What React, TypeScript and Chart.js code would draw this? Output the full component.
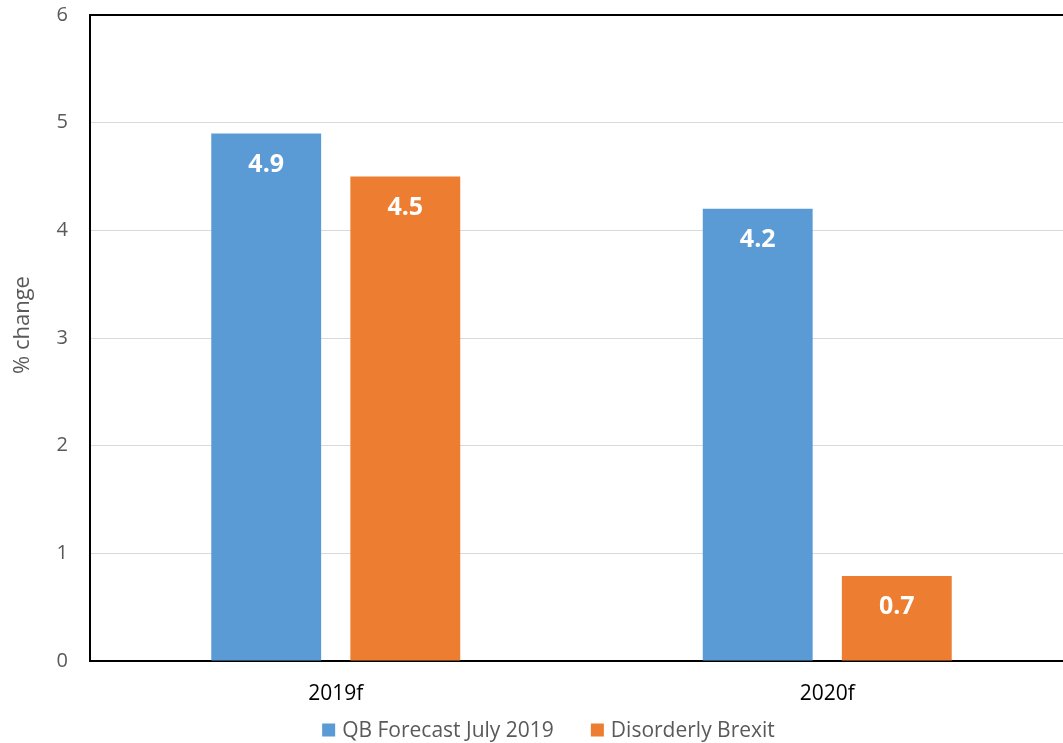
import React, { useEffect, useRef } from "react";
import { Chart, registerables } from "chart.js";

Chart.register(...registerables);

const categories = ["2019f", "2020f"];
const seriesNames = ["QB Forecast July 2019", "Disorderly Brexit"];
const qbForecast = [4.9, 4.2];
const disorderly = [4.5, 0.79];
const qbLabels = ["4.9", "4.2"];
const disorderlyLabels = ["4.5", "0.7"];
const yTicks = [0, 1, 2, 3, 4, 5, 6];
const yTitle = "% change";

const FONT = "'Open Sans', 'Noto Sans', sans-serif";

const barLabelPlugin = {
  id: "barLabels",
  afterDatasetsDraw(chart: any) {
    const ctx = chart.ctx;
    const labelSets = [qbLabels, disorderlyLabels];
    ctx.save();
    ctx.fillStyle = "#ffffff";
    ctx.font = `bold 25px ${FONT}`;
    ctx.textAlign = "center";
    ctx.textBaseline = "middle";
    chart.data.datasets.forEach((_: any, di: number) => {
      const meta = chart.getDatasetMeta(di);
      meta.data.forEach((bar: any, i: number) => {
        ctx.fillText(labelSets[di][i], bar.x, bar.y + 31);
      });
    });
    ctx.restore();
  },
};

const legendAndTitlePlugin = {
  id: "legendAndTitle",
  afterDraw(chart: any) {
    const ctx = chart.ctx;
    ctx.save();
    // legend
    ctx.font = `21px ${FONT}`;
    ctx.textBaseline = "middle";
    ctx.textAlign = "left";
    const box = 13;
    const boxGap = 7;
    const itemGap = 37;
    const items = chart.data.datasets.map((ds: any) => ({
      text: ds.label,
      color: ds.backgroundColor,
      w: box + boxGap + ctx.measureText(ds.label).width,
    }));
    const total =
      items.reduce((a: number, it: any) => a + it.w, 0) +
      itemGap * (items.length - 1);
    let x = chart.width / 2 - total / 2;
    const y = chart.height - 13;
    items.forEach((it: any) => {
      ctx.fillStyle = it.color;
      ctx.fillRect(x, y - box / 2, box, box);
      ctx.fillStyle = "#595959";
      ctx.fillText(it.text, x + box + boxGap, y + 1);
      x += it.w + itemGap;
    });
    // y axis title
    ctx.font = `22px ${FONT}`;
    ctx.textAlign = "center";
    ctx.translate(23, 325);
    ctx.rotate(-Math.PI / 2);
    ctx.fillStyle = "#595959";
    ctx.fillText(yTitle, 0, 0);
    ctx.restore();
  },
};

export default function App() {
  const ref = useRef<HTMLCanvasElement>(null);
  useEffect(() => {
    if (!ref.current) return;
    const chart = new Chart(ref.current, {
      type: "bar",
      data: {
        labels: categories,
        datasets: [
          {
            label: seriesNames[0],
            data: qbForecast,
            backgroundColor: "#5B9BD5",
            borderWidth: 0,
          },
          {
            label: seriesNames[1],
            data: disorderly,
            backgroundColor: "#ED7D31",
            borderWidth: 0,
          },
        ],
      },
      options: {
        responsive: false,
        animation: false,
        devicePixelRatio: 1,
        layout: { padding: { top: 15, right: 24, left: 0, bottom: 0 } },
        datasets: {
          bar: { categoryPercentage: 0.566, barPercentage: 0.79 },
        },
        plugins: {
          tooltip: { enabled: false },
          legend: { display: false },
        },
        scales: {
          x: {
            grid: { display: false, drawTicks: false },
            border: { display: true, color: "#000000", width: 2 },
            ticks: {
              color: "#000000",
              padding: 20,
              font: { family: FONT, size: 21 },
            },
            afterFit: (s: any) => {
              s.height = 82;
              s.paddingLeft = 0;
              s.paddingRight = 0;
            },
          },
          y: {
            position: "left",
            min: 0,
            max: 6,
            afterBuildTicks: (s: any) => {
              s.ticks = yTicks.map((v) => ({ value: v }));
            },
            grid: {
              drawTicks: false,
              color: (c: any) =>
                c.tick && c.tick.value === 6 ? "#000000" : "#d9d9d9",
              lineWidth: (c: any) => (c.tick && c.tick.value === 6 ? 2 : 1),
            },
            border: { display: true, color: "#000000", width: 2 },
            ticks: {
              color: "#595959",
              padding: 22,
              font: { family: FONT, size: 20 },
            },
            afterFit: (s: any) => {
              s.width = 90;
              s.paddingTop = 0;
              s.paddingBottom = 0;
            },
          },
        },
      },
      plugins: [barLabelPlugin, legendAndTitlePlugin],
    });
    return () => chart.destroy();
  }, []);
  return (
    <div
      style={{
        position: "fixed",
        left: 0,
        top: 0,
        width: "100vw",
        height: "100vh",
        overflow: "hidden",
        background: "#fff",
      }}
    >
      <canvas ref={ref} width={1097} height={743} style={{ display: "block" }} />
    </div>
  );
}
